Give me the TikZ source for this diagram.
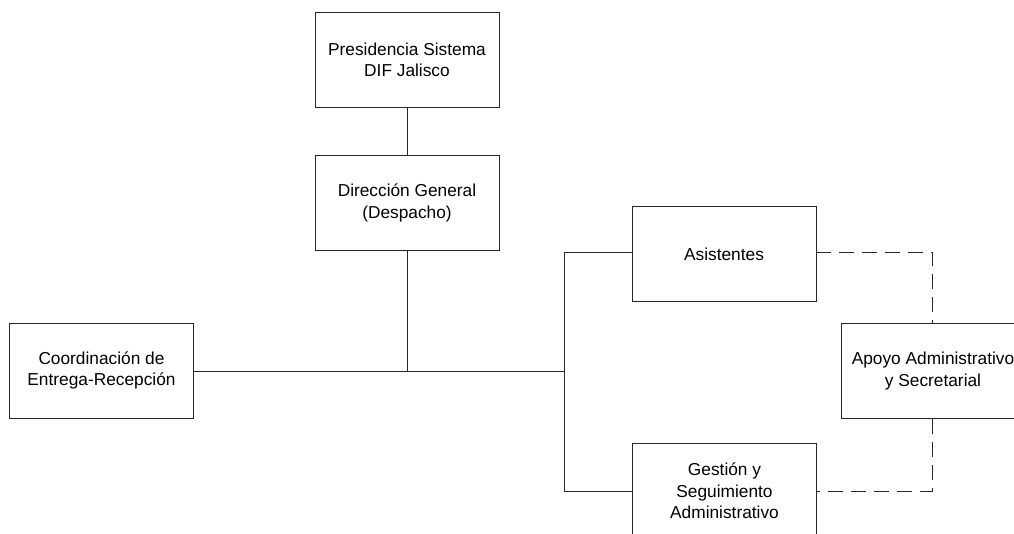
\documentclass[tikz,border=0pt]{standalone}
\usepackage{fontspec}
\setmainfont{Liberation Sans}
\begin{document}
\begin{tikzpicture}[x=1pt,y=-1pt,
  unit/.style={draw=black!85, line width=0.9pt, minimum width=184pt, minimum height=95pt,
    align=center, inner sep=0pt, font=\fontsize{17.3}{21.5}\selectfont},
  link/.style={line width=0.9pt, draw=black!85},
  dashlink/.style={link, dash pattern=on 15pt off 8pt}]
\useasboundingbox (0,0) rectangle (1014,533);
\clip (0,0) rectangle (1014,533);
\node[unit] (pres) at (407,60) {Presidencia Sistema\\DIF Jalisco};
\node[unit] (dir) at (407,203) {Dirección General\\(Despacho)};
\node[unit] (coord) at (101.5,370.5) {Coordinación de\\Entrega-Recepción};
\node[unit] (asis) at (724,254) {Asistentes};
\node[unit] (gest) at (724.5,491) {Gestión y\\Seguimiento\\Administrativo};
\node[unit] (apoyo) at (933,371) {Apoyo Administrativo\\y Secretarial};
\coordinate (hub) at (407,371);
\coordinate (branch) at (564,371);
\coordinate (asisIn) at (564,252);
\coordinate (gestIn) at (564,491);
\coordinate (asisOut) at (932,252);
\coordinate (gestOut) at (932,491);
\draw[link] (pres) -- (dir);
\draw[link] (dir) -- (hub);
\draw[link] (coord.east |- hub) -- (branch);
\draw[link] (asisIn) -- (gestIn);
\draw[link] (asisIn) -- (asis.west |- asisIn);
\draw[link] (gestIn) -- (gest.west |- gestIn);
\draw[dashlink] (asis.east |- asisOut) -- (asisOut) -- (apoyo.north -| asisOut);
\draw[dashlink] (apoyo.south -| gestOut) -- (gestOut) -- (gest.east |- gestOut);
\end{tikzpicture}
\end{document}
